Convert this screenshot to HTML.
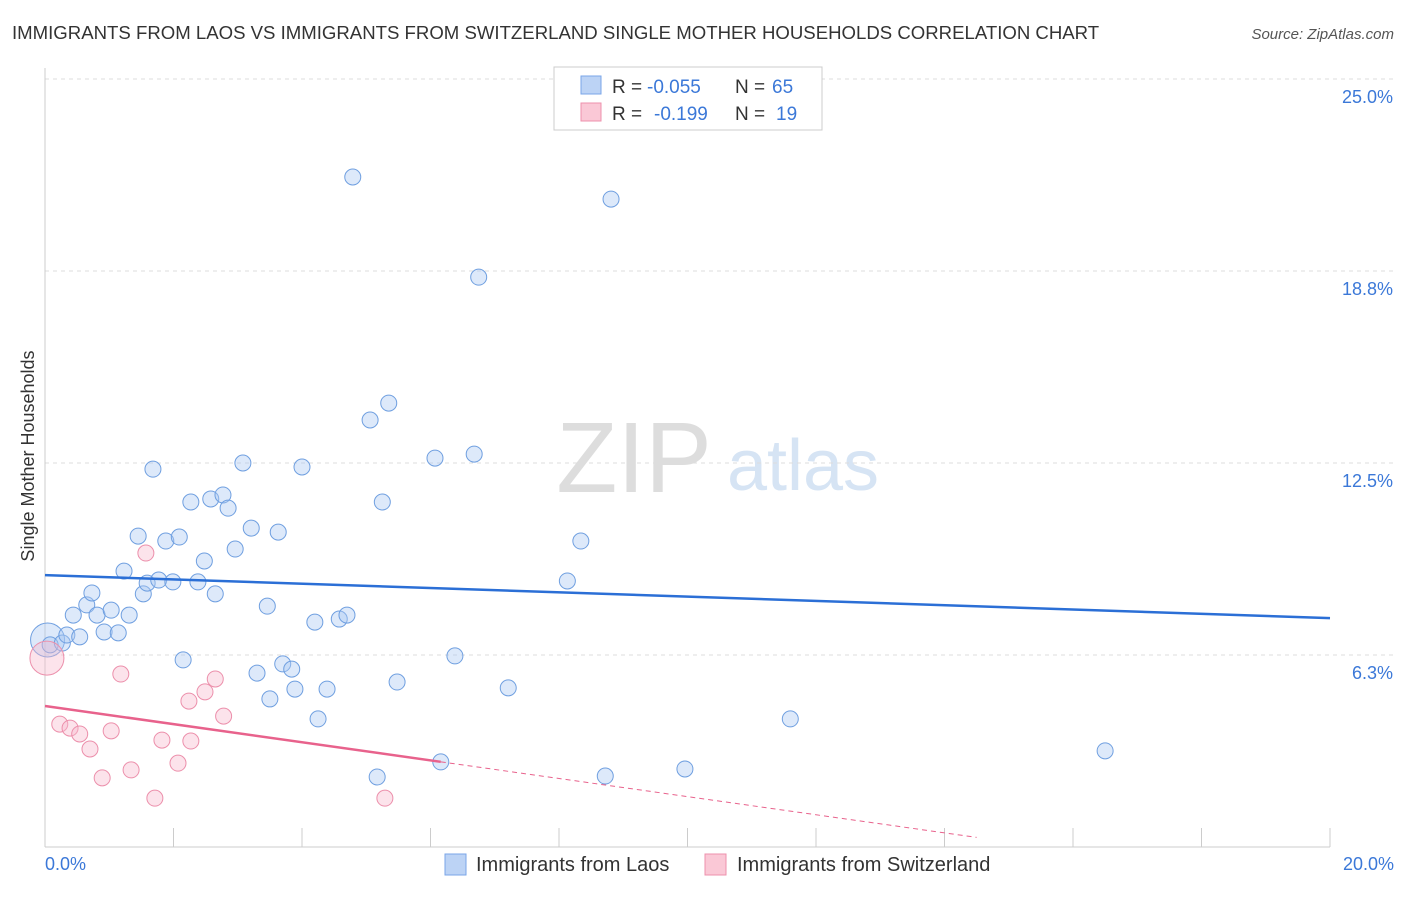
<!DOCTYPE html>
<html><head><meta charset="utf-8"><style>
body{margin:0;background:#fff;font-family:"Liberation Sans",sans-serif;}
svg text{font-family:"Liberation Sans",sans-serif;}
</style></head><body>
<svg width="1406" height="892" viewBox="0 0 1406 892">
<text x="12" y="39" font-size="18.6" fill="#333">IMMIGRANTS FROM LAOS VS IMMIGRANTS FROM SWITZERLAND SINGLE MOTHER HOUSEHOLDS CORRELATION CHART</text>
<text x="1394" y="39" font-size="15" fill="#555" font-style="italic" text-anchor="end">Source: ZipAtlas.com</text>
<g><text x="634" y="492" font-size="100" fill="#ddd" font-family="Liberation Serif" text-anchor="middle">ZIP</text><text x="803" y="490" font-size="72" fill="#d6e4f4" text-anchor="middle">atlas</text></g>
<g id="grid"></g><g id="axes"></g><g id="marks"></g>
<text transform="translate(34,456) rotate(-90)" font-size="18" fill="#333" text-anchor="middle">Single Mother Households</text>
<text x="45" y="870" font-size="18" fill="#3b78d8">0.0%</text>
<text x="1394" y="870" font-size="18" fill="#3b78d8" text-anchor="end">20.0%</text>
<g>
<rect x="554" y="67" width="268" height="63" fill="#fff" stroke="#ccc"/>
<rect x="581" y="76" width="20" height="18" fill="#bcd3f5" stroke="#7aa6e8"/>
<rect x="581" y="103" width="20" height="18" fill="#fac8d6" stroke="#ee90ac"/>
<text x="612" y="93" font-size="19" fill="#333">R =</text>
<text x="647" y="93" font-size="19" fill="#3b78d8">-0.055</text>
<text x="735" y="93" font-size="19" fill="#333">N =</text>
<text x="772" y="93" font-size="19" fill="#3b78d8">65</text>
<text x="612" y="120" font-size="19" fill="#333">R =</text>
<text x="654" y="120" font-size="19" fill="#3b78d8">-0.199</text>
<text x="735" y="120" font-size="19" fill="#333">N =</text>
<text x="776" y="120" font-size="19" fill="#3b78d8">19</text>
</g>
<g>
<rect x="445" y="854" width="21" height="21" fill="#bcd3f5" stroke="#7aa6e8"/>
<text x="476" y="871" font-size="20" fill="#333">Immigrants from Laos</text>
<rect x="705" y="854" width="21" height="21" fill="#fac8d6" stroke="#ee90ac"/>
<text x="737" y="871" font-size="20" fill="#333">Immigrants from Switzerland</text>
</g>
</svg>
<script>
const yTicks=[6.25,12.5,18.75,25];
const yTickLabels=["6.3%","12.5%","18.8%","25.0%"];
const xTicks=[0,2,4,6,8,10,12,14,16,18,20];
const laosX=[0.04,0.08,0.27,0.34,0.44,0.54,0.65,0.73,0.81,0.92,1.03,1.14,1.23,1.31,1.45,1.53,1.59,1.68,1.77,1.88,1.99,2.09,2.15,2.27,2.38,2.48,2.58,2.65,2.77,2.85,2.96,3.08,3.21,3.30,3.46,3.50,3.63,3.70,3.84,3.89,4.00,4.20,4.25,4.39,4.58,4.70,4.79,5.06,5.17,5.25,5.35,5.48,6.07,6.16,6.38,6.68,6.75,7.21,8.13,8.34,8.72,8.81,9.96,11.60,16.50];
const laosY=[6.74,6.58,6.64,6.90,7.55,6.84,7.88,8.27,7.55,7.00,7.71,6.97,8.98,7.55,10.12,8.24,8.59,12.30,8.69,9.96,8.63,10.09,6.09,11.23,8.63,9.31,11.33,8.24,11.46,11.03,9.70,12.50,10.38,5.66,7.84,4.82,10.25,5.96,5.79,5.14,12.37,7.32,4.17,5.14,7.42,7.55,21.81,13.90,2.28,11.23,14.45,5.37,12.66,2.77,6.22,12.79,18.55,5.18,8.66,9.96,2.31,21.09,2.54,4.17,3.13];
const swissX=[0.03,0.23,0.39,0.54,0.70,0.89,1.03,1.18,1.34,1.57,1.71,1.82,2.07,2.24,2.27,2.49,2.65,2.78,5.29];
const swissY=[6.15,4.00,3.87,3.68,3.19,2.25,3.78,5.63,2.51,9.57,1.59,3.48,2.73,4.75,3.45,5.05,5.47,4.26,1.59];
const laosTrend=[8.85,7.45];
const swissTrend=[4.59,-0.295];

const NS="http://www.w3.org/2000/svg";
const X=v=>45+v*64.25, Y=v=>847-v*30.72;
function mk(p,t,a){const e=document.createElementNS(NS,t);for(const k in a)e.setAttribute(k,a[k]);p.appendChild(e);return e;}
const grid=document.getElementById('grid'),axes=document.getElementById('axes'),marks=document.getElementById('marks');
yTicks.forEach((v,i)=>{
 const l=mk(grid,'line',{x1:45,x2:1394,y1:Y(v),y2:Y(v),stroke:'#ddd','stroke-dasharray':'4,4'});
 
 
 const t=mk(grid,'text',{x:1393,y:Y(v)+24,'font-size':18,fill:'#3b78d8','text-anchor':'end'});t.textContent=yTickLabels[i];
 
 
});
const ax=mk(axes,'line',{x1:45,x2:45,y1:68,y2:847,stroke:'#ccc'});


const bx=mk(axes,'line',{x1:45,x2:1330,y1:847,y2:847,stroke:'#ccc'});


xTicks.forEach(v=>{const t=mk(axes,'line',{x1:X(v),x2:X(v),y1:828,y2:847,stroke:'#ccc'});
 
 });
laosX.forEach((x,i)=>{const c=mk(marks,'circle',{cx:X(x),cy:Y(laosY[i]),r:i==0?17:8,fill:'rgba(170,200,242,0.4)',stroke:'#6f9fe0','stroke-width':1});
 
 });
swissX.forEach((x,i)=>{const c=mk(marks,'circle',{cx:X(x),cy:Y(swissY[i]),r:i==0?17:8,fill:'rgba(248,185,205,0.4)',stroke:'#ec8fab','stroke-width':1});
 
 });
const bl=mk(marks,'line',{x1:X(0),y1:Y(laosTrend[0]),x2:X(20),y2:Y(laosTrend[1]),stroke:'#2b6fd6','stroke-width':2.5});


const ps=x=>swissTrend[0]+swissTrend[1]*x;
const pl=mk(marks,'line',{x1:X(0),y1:Y(ps(0)),x2:X(6.16),y2:Y(ps(6.16)),stroke:'#e8628c','stroke-width':2.5});


const pd=mk(marks,'line',{x1:X(6.16),y1:Y(ps(6.16)),x2:X(14.5),y2:Y(ps(14.5)),stroke:'#e8628c','stroke-width':1,'stroke-dasharray':'5,4'});


</script>
</body></html>
